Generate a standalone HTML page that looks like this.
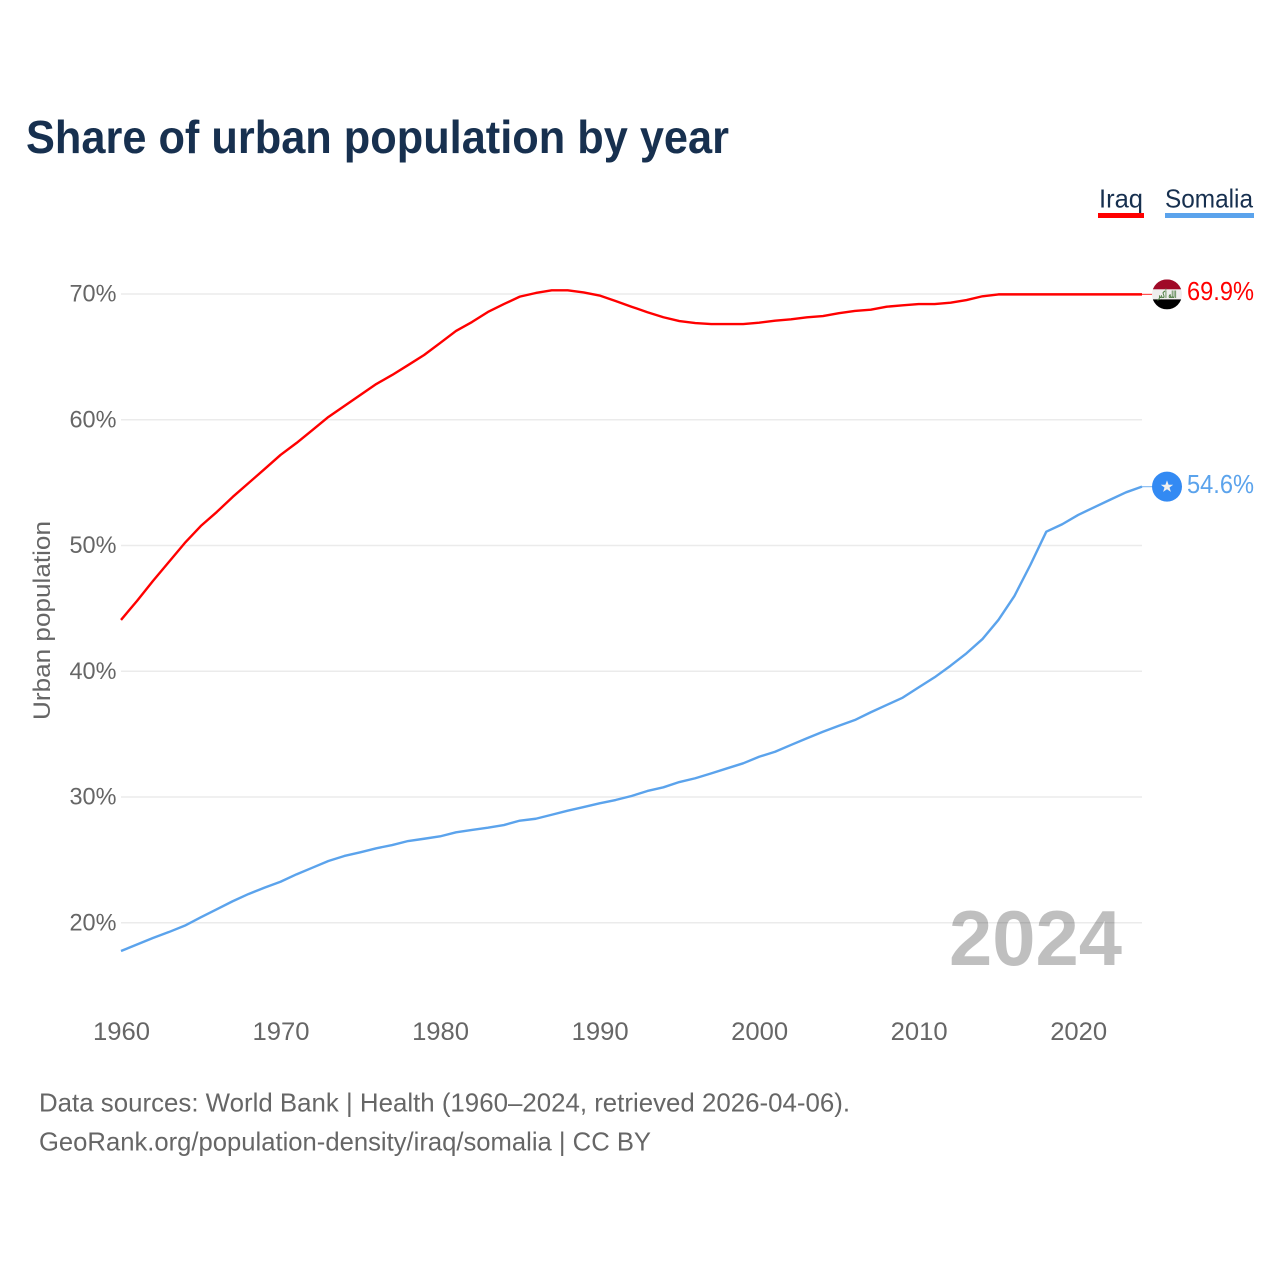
<!DOCTYPE html>
<html lang="en">
<head>
<meta charset="utf-8">
<title>Share of urban population by year</title>
<style>
html,body{margin:0;padding:0;background:#fff;width:1280px;height:1280px;overflow:hidden}
svg{display:block}
text{font-family:"Liberation Sans",sans-serif}
</style>
</head>
<body>
<svg id="chart" xmlns="http://www.w3.org/2000/svg" width="1280" height="1280" viewBox="0 0 1280 1280">
  <rect width="1280" height="1280" fill="#fff"/>
  <text x="26" y="153" font-size="46" font-weight="700" fill="#17304f" textLength="703" lengthAdjust="spacingAndGlyphs">Share of urban population by year</text>

  <g>
    <g>
      <text x="1099" y="207.5" font-size="26" fill="#17304f" textLength="44" lengthAdjust="spacingAndGlyphs">Iraq</text>
      <rect x="1098" y="213" width="46" height="5" fill="#ff0000"/>
    </g>
    <g>
      <text x="1165" y="207.5" font-size="26" fill="#17304f" textLength="88" lengthAdjust="spacingAndGlyphs">Somalia</text>
      <rect x="1165" y="213" width="89" height="5" fill="#5ba3ec"/>
    </g>
  </g>

  <text transform="translate(50,720) rotate(-90)" font-size="24" fill="#666" textLength="199" lengthAdjust="spacingAndGlyphs">Urban population</text>

  <g id="grid"></g>
  <g id="yticks"></g>
  <g id="xticks"></g>

  <text x="949" y="965" font-size="78" font-weight="700" fill="#000" fill-opacity="0.25" textLength="173" lengthAdjust="spacingAndGlyphs">2024</text>

  <g id="series"></g>

  <g id="iraq-end">
    <clipPath id="flag-clip"><circle cx="0" cy="0" r="15"/></clipPath>
    <g clip-path="url(#flag-clip)">
      <rect x="-15" y="-15" width="30" height="10" fill="#a00a28"/>
      <rect x="-15" y="-5" width="30" height="10" fill="#eeeeee"/>
      <rect x="-15" y="5" width="30" height="10" fill="#000"/>
      <text x="0" y="3.5" font-size="10" font-weight="700" text-anchor="middle" fill="#4f7f45" style="font-family:'DejaVu Sans',sans-serif" textLength="19" lengthAdjust="spacingAndGlyphs">الله أكبر</text>
    </g>
  </g>
  <g id="somalia-end">
    <circle cx="0" cy="0" r="15" fill="#338af3"/>
    <polygon points="0,-6.3 1.6,-1.9 6.2,-1.9 2.5,0.8 3.9,5.2 0,2.6 -3.9,5.2 -2.5,0.8 -6.2,-1.9 -1.6,-1.9" fill="#f0f0f0"/>
  </g>
  <g id="end-labels"></g>

  <g>
    <text x="39" y="1111.5" font-size="26" fill="#666" textLength="811" lengthAdjust="spacingAndGlyphs">Data sources: World Bank | Health (1960–2024, retrieved 2026-04-06).</text>
    <text x="39" y="1150.5" font-size="26" fill="#666" textLength="612" lengthAdjust="spacingAndGlyphs">GeoRank.org/population-density/iraq/somalia | CC BY</text>
  </g>
</svg>
<script>
const startYear = 1960;
const xTickYears = ["1960", "1970", "1980", "1990", "2000", "2010", "2020"];
const yTickValues = [20, 30, 40, 50, 60, 70];
const iraqValues = [44.08,45.59,47.18,48.69,50.20,51.55,52.66,53.86,54.97,56.08,57.20,58.15,59.18,60.22,61.09,61.97,62.84,63.56,64.35,65.15,66.10,67.06,67.77,68.57,69.20,69.79,70.08,70.29,70.29,70.12,69.88,69.44,68.99,68.55,68.15,67.85,67.69,67.61,67.61,67.61,67.72,67.88,67.99,68.15,68.25,68.47,68.65,68.75,68.99,69.10,69.20,69.20,69.31,69.52,69.82,69.97,69.97,69.97,69.97,69.97,69.97,69.97,69.97,69.97,69.97];
const somaliaValues = [17.75,18.27,18.79,19.26,19.77,20.43,21.07,21.71,22.29,22.79,23.26,23.85,24.38,24.91,25.31,25.60,25.92,26.18,26.50,26.68,26.87,27.19,27.38,27.56,27.77,28.12,28.27,28.59,28.91,29.20,29.50,29.76,30.08,30.48,30.77,31.19,31.49,31.88,32.28,32.68,33.20,33.60,34.14,34.67,35.19,35.67,36.12,36.74,37.32,37.90,38.72,39.52,40.44,41.43,42.56,44.08,45.98,48.45,51.10,51.69,52.43,53.04,53.64,54.23,54.68];
const iraqPrinted = "69.9%";
const somaliaPrinted = "54.6%";

const NS = "http://www.w3.org/2000/svg";
const xPos = function (year) { return 121 + (year - 1960) * (1021 / 64); };
const yPos = function (value) { return 294 + (70 - value) * 12.575; };
const make = function (tag, parent, props) {
  const el = document.createElementNS(NS, tag);
  for (const k in props) el.setAttribute(k, props[k]);
  parent.appendChild(el);
  return el;
};
const gridG = document.getElementById("grid");
const yTickG = document.getElementById("yticks");
const xTickG = document.getElementById("xticks");
const seriesG = document.getElementById("series");
const labelG = document.getElementById("end-labels");
const xEnd = xPos(2024);

yTickValues.forEach(function (v) {
  const line = make("line", gridG, {x1: 121, x2: xEnd, y1: yPos(v), y2: yPos(v), stroke: "#ebebeb", "stroke-width": 1.6});
  
  
  const t = make("text", yTickG, {x: 116.5, y: yPos(v) + 7.5, "text-anchor": "end", "font-size": 24, fill: "#666", textLength: 47, lengthAdjust: "spacingAndGlyphs"});
  t.textContent = v + "%";
  
  
});

xTickYears.forEach(function (label) {
  const t = make("text", xTickG, {x: xPos(Number(label)) + 0.5, y: 1040, "text-anchor": "middle", "font-size": 25, fill: "#666", textLength: 57, lengthAdjust: "spacingAndGlyphs"});
  t.textContent = label;
  
  
});

const drawSeries = function (values, color, name) {
  const pts = values.map(function (v, i) { return xPos(startYear + i).toFixed(2) + "," + yPos(v).toFixed(2); }).join(" ");
  const path = make("polyline", seriesG, {points: pts, fill: "none", stroke: color, "stroke-width": 2.4, "stroke-linejoin": "round"});
  
  
  const lastY = yPos(values[values.length - 1]);
  const lead = make("line", seriesG, {x1: xEnd, x2: xEnd + 12, y1: lastY, y2: lastY, stroke: color, "stroke-width": 1.2, "stroke-opacity": 0.7});
  
  
  return lastY;
};
const iraqY = drawSeries(iraqValues, "#ff0000", "iraq-line");
const somaliaY = drawSeries(somaliaValues, "#5ba3ec", "somalia-line");

document.getElementById("iraq-end").setAttribute("transform", "translate(1167," + iraqY + ")");
document.getElementById("somalia-end").setAttribute("transform", "translate(1167," + somaliaY + ")");

const iraqLabel = make("text", labelG, {x: 1187, y: iraqY + 5.5, "font-size": 26, fill: "#ff0000", textLength: 67, lengthAdjust: "spacingAndGlyphs"});
iraqLabel.textContent = iraqPrinted;


const somaliaLabel = make("text", labelG, {x: 1187, y: somaliaY + 6.5, "font-size": 26, fill: "#5ba3ec", textLength: 67, lengthAdjust: "spacingAndGlyphs"});
somaliaLabel.textContent = somaliaPrinted;


</script>
</body>
</html>
